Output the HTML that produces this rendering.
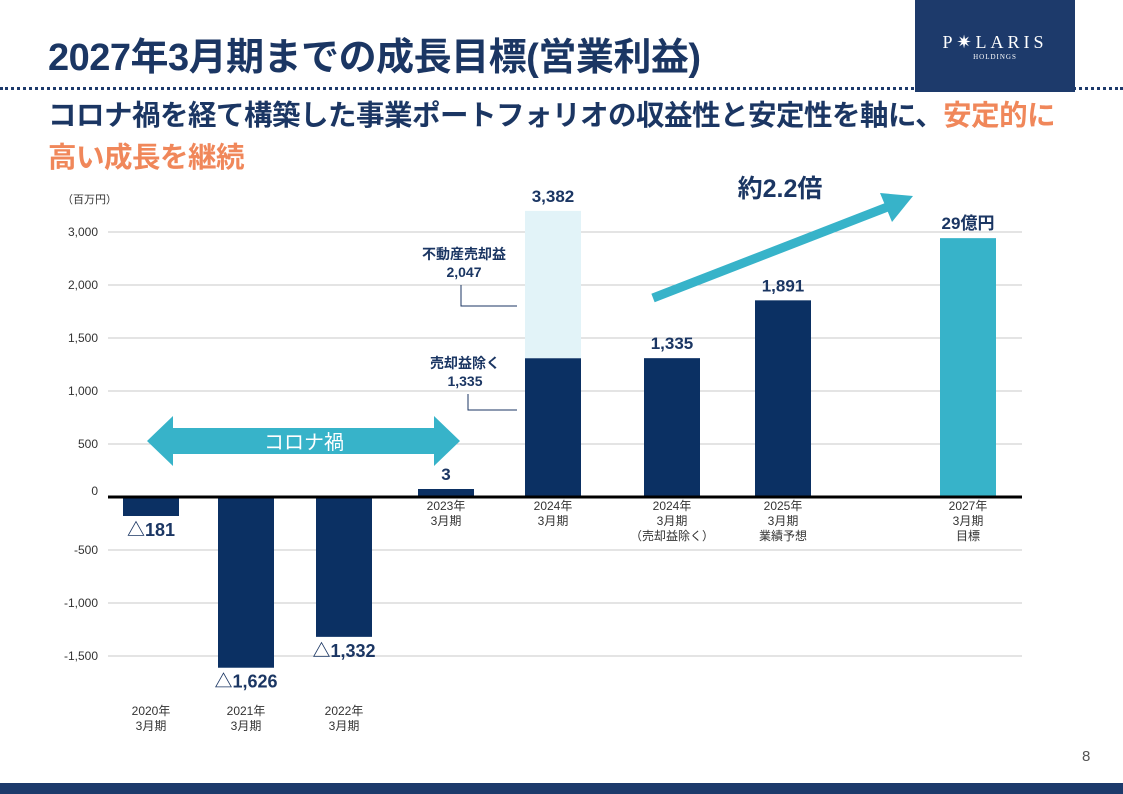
<!DOCTYPE html>
<html><head><meta charset="utf-8">
<style>
body{margin:0;width:1123px;height:794px;overflow:hidden;background:#fff;font-family:"Liberation Sans","Noto Sans CJK JP",sans-serif;position:relative}
.abs{position:absolute}
</style></head><body>
<div class="abs" style="left:48px;top:26px;font-size:38px;font-weight:bold;color:#1b3663;letter-spacing:-0.5px;white-space:nowrap">2027年3月期までの成長目標(営業利益)</div>
<div class="abs" style="left:915px;top:0;width:160px;height:92px;background:#1d3a6b;color:#fff;text-align:center;font-family:'Liberation Serif',serif">
 <div style="margin-top:32px;font-size:18px;letter-spacing:4px">P✷LARIS</div><div style="font-size:7px;letter-spacing:1px">HOLDINGS</div></div>
<div class="abs" style="left:0;top:87px;width:1123px;border-top:3px dotted #1d3a6b"></div>
<div class="abs" style="left:48px;top:95px;font-size:28.5px;font-weight:bold;color:#1b3663;line-height:42px;letter-spacing:-0.5px;white-space:nowrap">コロナ禍を経て構築した事業ポートフォリオの収益性と安定性を軸に、<span style="color:#f0875a">安定的に<br>高い成長を継続</span></div>
<div class="abs" style="left:0;top:783px;width:1123px;height:11px;background:#1d3a6b"></div>
<div class="abs" style="left:1082px;top:748px;font-size:15px;color:#555">8</div>
<svg class="abs" style="left:0;top:0" width="1123" height="794" id="chart"></svg>
<script>
const categories=["2020年\n3月期","2021年\n3月期","2022年\n3月期","2023年\n3月期","2024年\n3月期","2024年\n3月期\n（売却益除く）","2025年\n3月期\n業績予想","2027年\n3月期\n目標"];
const baseValues=[-181,-1626,-1332,3,1335,1335,1891,2900];
const saleGain=[0,0,0,0,2047,0,0,0];
const valueLabels=["△181","△1,626","△1,332","3","3,382","1,335","1,891","29億円"];
const tickValues=[2500,2000,1500,1000,500,0,-500,-1000,-1500];
const tickLabels=["3,000","2,000","1,500","1,000","500","0","-500","-1,000","-1,500"];
const barX=[123,218,316,418,525,644,755,940];
const Y0=497;
function yGrid(v){return Y0-v*0.106;}
function yBar(v){if(v<0)return Y0-v*0.105;if(v<=2000)return Y0-v*0.104;return Y0-2000*0.104-(v-2000)*0.0565;}
const svg=document.getElementById('chart');const NS='http://www.w3.org/2000/svg';
function mk(t,a,txt){const e=document.createElementNS(NS,t);for(const k in a)e.setAttribute(k,a[k]);if(txt!=null)e.textContent=txt;svg.appendChild(e);return e;}
let e=mk('text',{x:62,y:203,'font-size':11,fill:'#333'},'（百万円）');

tickValues.forEach((v,i)=>{const y=yGrid(v);
 if(v!==0){const l=mk('line',{x1:108,x2:1022,y1:y,y2:y,stroke:'#c8c8c8','stroke-width':1});
 }
 const t=mk('text',{x:98,y:(v===0?y-2:y+4),'font-size':12,fill:'#333','text-anchor':'end'},tickLabels[i]);
 });
const W=56;
categories.forEach((c,i)=>{const v=baseValues[i],x=barX[i];
 const col=i===7?'#37b3c9':'#0b3063';
 let y1=yBar(Math.max(v,0)),y2=yBar(Math.min(v,0));if(y2-y1<8&&v>0)y1=y2-8;
 const r=mk('rect',{x:x,y:y1,width:W,height:y2-y1,fill:col});
 
 let top=y1;
 if(saleGain[i]>0){const yt=yBar(v+saleGain[i]);const r2=mk('rect',{x:x,y:yt,width:W,height:y1-yt,fill:'#e2f3f8'});
  top=yt;}
 const ly=v<0?y2+20:top-9;
 const t=mk('text',{x:x+W/2,y:ly,'font-size':v<0?18:17,'font-weight':'bold',fill:'#1b3663','text-anchor':'middle'},valueLabels[i]);
 
 const lines=c.split('\n');const cy=i<3?715:510;
 lines.forEach((s,j)=>{const tt=mk('text',{x:x+W/2,y:cy+j*15,'font-size':12,fill:'#333','text-anchor':'middle'},s);
  });
});
e=mk('line',{x1:108,x2:1022,y1:Y0,y2:Y0,stroke:'#000','stroke-width':3});

e=mk('text',{x:464,y:259,'font-size':14,'font-weight':'bold',fill:'#1b3663','text-anchor':'middle'},'不動産売却益');
e=mk('text',{x:464,y:277,'font-size':14,'font-weight':'bold',fill:'#1b3663','text-anchor':'middle'},'2,047');
e=mk('polyline',{points:'461,285 461,306 517,306',fill:'none',stroke:'#1b3663','stroke-width':1});
e=mk('text',{x:465,y:368,'font-size':14,'font-weight':'bold',fill:'#1b3663','text-anchor':'middle'},'売却益除く');
e=mk('text',{x:465,y:386,'font-size':14,'font-weight':'bold',fill:'#1b3663','text-anchor':'middle'},'1,335');
e=mk('polyline',{points:'468,394 468,410 517,410',fill:'none',stroke:'#1b3663','stroke-width':1});
e=mk('polygon',{points:'147,441 173,416 173,428 434,428 434,416 460,441 434,466 434,454 173,454 173,466',fill:'#37b3c9'});
e=mk('text',{x:304,y:449,'font-size':20,fill:'#fff','text-anchor':'middle'},'コロナ禍');
e=mk('line',{x1:653,y1:298,x2:890,y2:206,stroke:'#37b3c9','stroke-width':9});
e=mk('polygon',{points:'913,196 880,193 892,222',fill:'#37b3c9'});
e=mk('text',{x:780,y:197,'font-size':25,'font-weight':'bold',fill:'#1b3663','text-anchor':'middle'},'約2.2倍');
</script>
</body></html>
